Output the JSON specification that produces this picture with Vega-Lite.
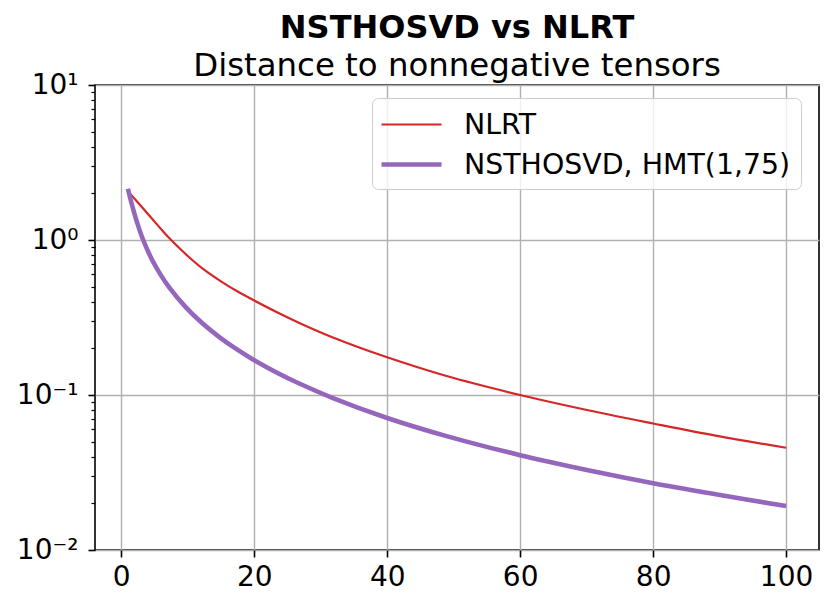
{
  "$schema": "https://vega.github.io/schema/vega-lite/v6.json",
  "width": 724,
  "height": 465,
  "autosize": {"type": "none"},
  "padding": {"left": 95, "top": 85, "right": 11, "bottom": 55},
  "background": "white",
  "config": {
    "font": "DejaVu Sans",
    "view": {"stroke": "black", "strokeWidth": 1.6},
    "axis": {
      "labelFont": "DejaVu Sans",
      "labelFontSize": 28,
      "labelColor": "black",
      "tickColor": "black",
      "tickWidth": 1.6,
      "tickSize": 7,
      "domain": false,
      "gridColor": "#b0b0b0",
      "gridWidth": 1.4,
      "labelFlush": false,
      "labelOverlap": false,
      "title": null
    },
    "legend": {
      "title": null,
      "orient": "none",
      "legendX": 277,
      "legendY": 13,
      "symbolType": "M-2,0H2",
      "symbolSize": 900,
      "symbolOffset": 12,
      "labelFontSize": 28.4,
      "labelFont": "DejaVu Sans",
      "labelColor": "black",
      "labelLimit": 0,
      "labelOffset": 35,
      "rowPadding": 8,
      "padding": 10,
      "fillColor": "rgba(255,255,255,0.8)",
      "strokeColor": "#cccccc",
      "cornerRadius": 6
    }
  },
  "title": {
    "text": "NSTHOSVD vs NLRT",
    "subtitle": "Distance to nonnegative tensors",
    "anchor": "middle",
    "frame": "group",
    "font": "DejaVu Sans",
    "fontSize": 32,
    "fontWeight": "bold",
    "color": "black",
    "subtitleFont": "DejaVu Sans",
    "subtitleFontSize": 32.4,
    "subtitleColor": "black",
    "subtitlePadding": 5,
    "offset": -12
  },
  "data": {
    "values": [
      {"series": "NLRT", "x": 1, "y": 2.065},
      {"series": "NLRT", "x": 1.5, "y": 1.95},
      {"series": "NLRT", "x": 3, "y": 1.65},
      {"series": "NLRT", "x": 4.67, "y": 1.365},
      {"series": "NLRT", "x": 6, "y": 1.175},
      {"series": "NLRT", "x": 7.43, "y": 1.007},
      {"series": "NLRT", "x": 10, "y": 0.789},
      {"series": "NLRT", "x": 12.2, "y": 0.656},
      {"series": "NLRT", "x": 15, "y": 0.541},
      {"series": "NLRT", "x": 17.5, "y": 0.465},
      {"series": "NLRT", "x": 20, "y": 0.407},
      {"series": "NLRT", "x": 23.73, "y": 0.337},
      {"series": "NLRT", "x": 26.7, "y": 0.293},
      {"series": "NLRT", "x": 31.75, "y": 0.236},
      {"series": "NLRT", "x": 40, "y": 0.175},
      {"series": "NLRT", "x": 48.8, "y": 0.133},
      {"series": "NLRT", "x": 60, "y": 0.1},
      {"series": "NLRT", "x": 70.4, "y": 0.0794},
      {"series": "NLRT", "x": 80, "y": 0.0655},
      {"series": "NLRT", "x": 89.4, "y": 0.0547},
      {"series": "NLRT", "x": 100, "y": 0.0457},
      {"series": "NSTHOSVD, HMT(1,75)", "x": 1, "y": 2.14},
      {"series": "NSTHOSVD, HMT(1,75)", "x": 1.5, "y": 1.758},
      {"series": "NSTHOSVD, HMT(1,75)", "x": 2, "y": 1.47},
      {"series": "NSTHOSVD, HMT(1,75)", "x": 2.41, "y": 1.286},
      {"series": "NSTHOSVD, HMT(1,75)", "x": 3.3, "y": 1.0},
      {"series": "NSTHOSVD, HMT(1,75)", "x": 4.67, "y": 0.74},
      {"series": "NSTHOSVD, HMT(1,75)", "x": 6, "y": 0.589},
      {"series": "NSTHOSVD, HMT(1,75)", "x": 7.18, "y": 0.497},
      {"series": "NSTHOSVD, HMT(1,75)", "x": 9.69, "y": 0.369},
      {"series": "NSTHOSVD, HMT(1,75)", "x": 12.2, "y": 0.29},
      {"series": "NSTHOSVD, HMT(1,75)", "x": 14.7, "y": 0.2374},
      {"series": "NSTHOSVD, HMT(1,75)", "x": 17, "y": 0.202},
      {"series": "NSTHOSVD, HMT(1,75)", "x": 20, "y": 0.1677},
      {"series": "NSTHOSVD, HMT(1,75)", "x": 23.73, "y": 0.1371},
      {"series": "NSTHOSVD, HMT(1,75)", "x": 26.2, "y": 0.1217},
      {"series": "NSTHOSVD, HMT(1,75)", "x": 31.75, "y": 0.0959},
      {"series": "NSTHOSVD, HMT(1,75)", "x": 40, "y": 0.0711},
      {"series": "NSTHOSVD, HMT(1,75)", "x": 48.8, "y": 0.0545},
      {"series": "NSTHOSVD, HMT(1,75)", "x": 60, "y": 0.0409},
      {"series": "NSTHOSVD, HMT(1,75)", "x": 70.4, "y": 0.0326},
      {"series": "NSTHOSVD, HMT(1,75)", "x": 80, "y": 0.027},
      {"series": "NSTHOSVD, HMT(1,75)", "x": 89.4, "y": 0.0229},
      {"series": "NSTHOSVD, HMT(1,75)", "x": 100, "y": 0.0192}
    ]
  },
  "layer": [
    {
      "mark": {"type": "line", "interpolate": "catmull-rom", "strokeCap": "butt", "clip": true},
      "encoding": {
        "x": {
          "field": "x", "type": "quantitative",
          "scale": {"domain": [-3.95, 104.95], "nice": false, "zero": false},
          "axis": {"values": [0, 20, 40, 60, 80, 100], "format": "d", "grid": true, "labelPadding": 6}
        },
        "y": {
          "field": "y", "type": "quantitative",
          "scale": {"type": "log", "domain": [0.01, 10], "nice": false},
          "axis": {
            "values": [0.01, 0.1, 1, 10],
            "grid": true,
            "labelPadding": 10,
            "labelExpr": "datum.value > 5 ? '10¹' : datum.value > 0.5 ? '10⁰' : datum.value > 0.05 ? '10⁻¹' : '10⁻²'"
          }
        },
        "color": {
          "field": "series", "type": "nominal",
          "scale": {"domain": ["NLRT", "NSTHOSVD, HMT(1,75)"], "range": ["#d62728", "#9467bd"]}
        },
        "strokeWidth": {
          "field": "series", "type": "nominal",
          "scale": {"domain": ["NLRT", "NSTHOSVD, HMT(1,75)"], "range": [2.2, 4.6]}
        }
      }
    },
    {
      "mark": {"type": "point", "opacity": 0},
      "encoding": {
        "x": {"field": "x", "type": "quantitative"},
        "y": {
          "field": "y", "type": "quantitative",
          "axis": {
            "orient": "left",
            "values": [0.02, 0.03, 0.04, 0.05, 0.06, 0.07, 0.08, 0.09, 0.2, 0.3, 0.4, 0.5, 0.6, 0.7, 0.8, 0.9, 2, 3, 4, 5, 6, 7, 8, 9],
            "labels": false,
            "grid": false,
            "tickSize": 4,
            "tickWidth": 1.2
          }
        }
      }
    }
  ],
  "resolve": {"axis": {"y": "independent"}}
}
